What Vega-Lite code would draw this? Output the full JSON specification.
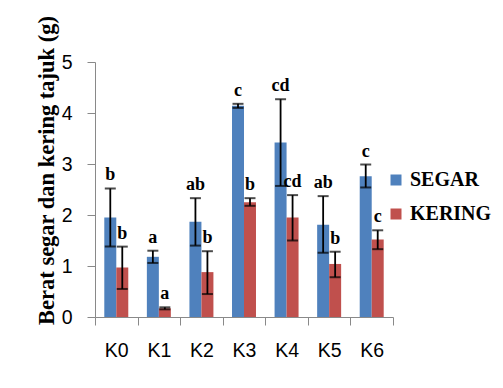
{
  "$schema": "https://vega.github.io/schema/vega-lite/v6.json",
  "autosize": {"type": "none"},
  "padding": {"left": 95, "top": 62, "right": 110, "bottom": 71},
  "width": 298,
  "height": 255,
  "background": "white",
  "config": {
    "view": {"stroke": null},
    "legend": {
      "labelFont": "Liberation Serif", "labelFontWeight": "bold", "labelFontSize": 20, "labelColor": "black",
      "symbolType": "square", "symbolSize": 121, "symbolStrokeWidth": 0, "rowPadding": 14, "labelOffset": 4, "padding": 0
    }
  },
  "data": {"values": [
    {"k": "K0", "s": "SEGAR", "v": 1.95, "lo": 1.38, "hi": 2.52, "lab": "b"},
    {"k": "K0", "s": "KERING", "v": 0.97, "lo": 0.55, "hi": 1.38, "lab": "b"},
    {"k": "K1", "s": "SEGAR", "v": 1.18, "lo": 1.06, "hi": 1.30, "lab": "a"},
    {"k": "K1", "s": "KERING", "v": 0.17, "lo": 0.15, "hi": 0.19, "lab": "a"},
    {"k": "K2", "s": "SEGAR", "v": 1.87, "lo": 1.40, "hi": 2.33, "lab": "ab"},
    {"k": "K2", "s": "KERING", "v": 0.88, "lo": 0.45, "hi": 1.29, "lab": "b"},
    {"k": "K3", "s": "SEGAR", "v": 4.14, "lo": 4.10, "hi": 4.18, "lab": "c"},
    {"k": "K3", "s": "KERING", "v": 2.25, "lo": 2.18, "hi": 2.33, "lab": "b"},
    {"k": "K4", "s": "SEGAR", "v": 3.42, "lo": 2.57, "hi": 4.27, "lab": "cd"},
    {"k": "K4", "s": "KERING", "v": 1.95, "lo": 1.50, "hi": 2.39, "lab": "cd"},
    {"k": "K5", "s": "SEGAR", "v": 1.81, "lo": 1.26, "hi": 2.37, "lab": "ab"},
    {"k": "K5", "s": "KERING", "v": 1.04, "lo": 0.78, "hi": 1.28, "lab": "b"},
    {"k": "K6", "s": "SEGAR", "v": 2.76, "lo": 2.54, "hi": 2.99, "lab": "c"},
    {"k": "K6", "s": "KERING", "v": 1.52, "lo": 1.33, "hi": 1.70, "lab": "c"}
  ]},
  "encoding": {
    "x": {
      "field": "k", "type": "nominal",
      "scale": {"paddingInner": 0, "paddingOuter": 0},
      "axis": {
        "title": null, "labelAngle": 0, "tickBand": "extent",
        "domainColor": "#898989", "tickColor": "#898989", "tickSize": 8,
        "labelFont": "Liberation Sans", "labelFontSize": 19.5, "labelColor": "black",
        "labelPadding": 16
      }
    },
    "xOffset": {"field": "s", "type": "nominal", "sort": ["SEGAR", "KERING"], "scale": {"paddingInner": 0, "paddingOuter": 0.775}}
  },
  "layer": [
    {
      "mark": {"type": "bar"},
      "encoding": {
        "y": {
          "field": "v", "type": "quantitative",
          "scale": {"domain": [0, 5], "nice": false},
          "axis": {
            "values": [0, 1, 2, 3, 4, 5], "grid": false,
            "domainColor": "#898989", "tickColor": "#898989", "tickSize": 8,
            "labelFont": "Liberation Sans", "labelFontSize": 19.5, "labelColor": "black", "labelPadding": 15,
            "title": "Berat segar dan kering tajuk (g)",
            "titleFont": "Liberation Serif", "titleFontWeight": "bold", "titleFontSize": 22.5, "titleColor": "black",
            "titleAngle": -90, "titleAlign": "center", "titleBaseline": "alphabetic",
            "titleX": -42, "titleY": 108
          }
        },
        "color": {
          "field": "s", "type": "nominal",
          "scale": {"domain": ["SEGAR", "KERING"], "range": ["#4F81BD", "#C0504D"]},
          "legend": {
            "title": null, "orient": "none", "legendX": 291, "legendY": 108
          }
        }
      }
    },
    {
      "mark": {"type": "rule", "color": "black", "strokeWidth": 1.8},
      "encoding": {
        "y": {"field": "lo", "type": "quantitative"},
        "y2": {"field": "hi"}
      }
    },
    {
      "mark": {"type": "tick", "color": "black", "thickness": 2, "size": 11},
      "encoding": {"y": {"field": "lo", "type": "quantitative"}}
    },
    {
      "mark": {"type": "tick", "color": "black", "thickness": 2, "size": 11},
      "encoding": {"y": {"field": "hi", "type": "quantitative"}}
    },
    {
      "mark": {"type": "text", "font": "Liberation Serif", "fontWeight": "bold", "fontSize": 18, "color": "black", "baseline": "alphabetic", "dy": -8},
      "encoding": {
        "y": {"field": "hi", "type": "quantitative"},
        "text": {"field": "lab"}
      }
    }
  ]
}
